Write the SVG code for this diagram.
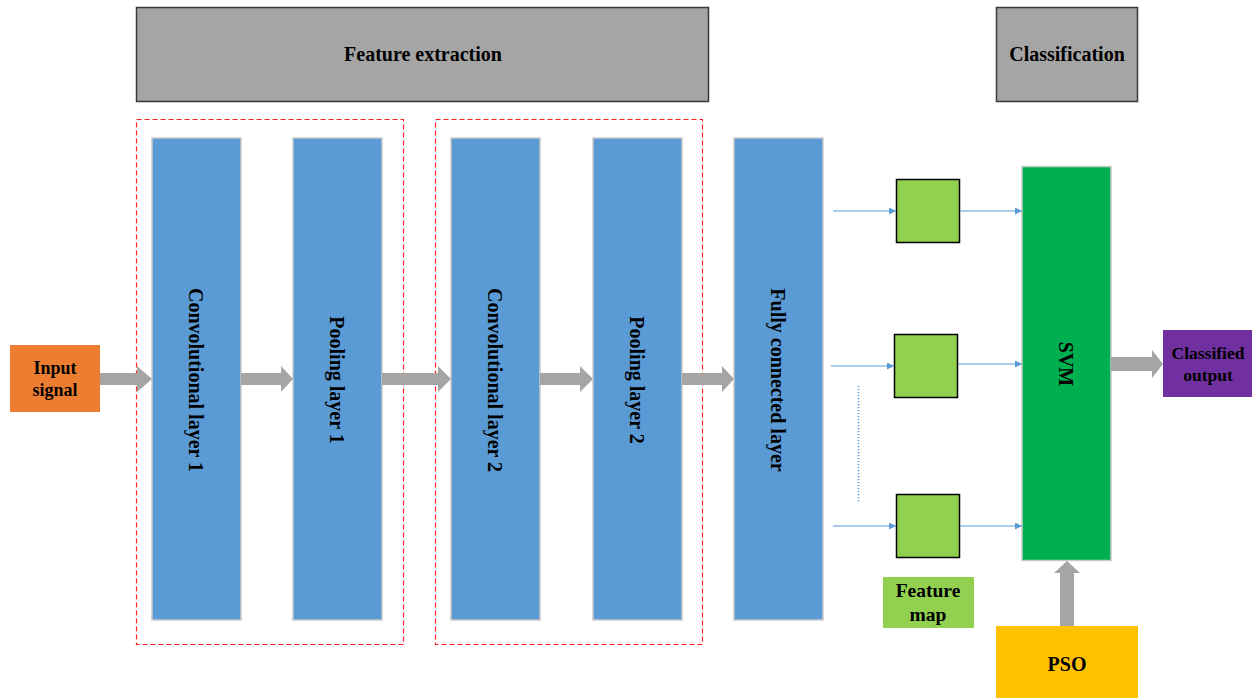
<svg xmlns="http://www.w3.org/2000/svg" width="1252" height="698" viewBox="0 0 1252 698">
  <style>
    .lbl { font-family: "Liberation Serif", "Times New Roman", serif; font-weight: bold; fill: #000; text-anchor: middle; dominant-baseline: central; }
    .hdr { fill: #A5A5A5; stroke: #3A3A3A; stroke-width: 1.5; }
    .layer { fill: #5B9BD5; stroke: #C9C9C9; stroke-width: 1.5; }
    .group { fill: none; stroke: #FF2020; stroke-width: 1.2; stroke-dasharray: 5 3; }
    .fmap { fill: #92D050; stroke: #000; stroke-width: 1.5; }
    .big { fill: #A5A5A5; }
    .thin { stroke: #5B9BD5; stroke-width: 1.2; fill: none; marker-end: url(#tip); }
  </style>
  <defs>
    <marker id="tip" viewBox="0 0 10 10" refX="10" refY="5" markerWidth="7" markerHeight="7" markerUnits="userSpaceOnUse" orient="auto">
      <path d="M0,0 L10,5 L0,10 z" fill="#5B9BD5"/>
    </marker>
  </defs>

  <rect width="1252" height="698" fill="#FFFFFF"/>

  <!-- stage headers -->
  <g id="feature-extraction">
    <rect class="hdr" x="136.5" y="7.5" width="572" height="94"/>
    <text class="lbl" x="423" y="54" font-size="20">Feature extraction</text>
  </g>
  <g id="classification">
    <rect class="hdr" x="996.5" y="7.5" width="141" height="94"/>
    <text class="lbl" x="1067" y="54" font-size="20">Classification</text>
  </g>

  <!-- dashed groupings -->
  <g id="block-1"><rect class="group" x="136.5" y="119.5" width="267" height="525"/></g>
  <g id="block-2"><rect class="group" x="435.5" y="119.5" width="267" height="525"/></g>

  <!-- input -->
  <g id="input-signal">
    <rect x="10" y="345" width="90" height="67" fill="#ED7D31"/>
    <text class="lbl" x="55" y="368" font-size="18">Input</text>
    <text class="lbl" x="55" y="390" font-size="18">signal</text>
  </g>

  <!-- CNN layers -->
  <g id="conv-1">
    <rect class="layer" x="152" y="138" width="89" height="482"/>
    <text class="lbl" font-size="20" transform="translate(196,380) rotate(90)">Convolutional layer 1</text>
  </g>
  <g id="pool-1">
    <rect class="layer" x="293" y="138" width="89" height="482"/>
    <text class="lbl" font-size="20" transform="translate(337,380) rotate(90)">Pooling layer 1</text>
  </g>
  <g id="conv-2">
    <rect class="layer" x="451" y="138" width="89" height="482"/>
    <text class="lbl" font-size="20" transform="translate(495,380) rotate(90)">Convolutional layer 2</text>
  </g>
  <g id="pool-2">
    <rect class="layer" x="593" y="138" width="89" height="482"/>
    <text class="lbl" font-size="20" transform="translate(637,380) rotate(90)">Pooling layer 2</text>
  </g>
  <g id="fully-connected">
    <rect class="layer" x="734" y="138" width="89" height="482"/>
    <text class="lbl" font-size="20" transform="translate(778,380) rotate(90)">Fully connected layer</text>
  </g>

  <!-- feature maps -->
  <g id="fmap-1"><rect class="fmap" x="896.5" y="179.5" width="63" height="63"/></g>
  <g id="fmap-2"><rect class="fmap" x="894.5" y="334.5" width="63" height="63"/></g>
  <g id="fmap-3"><rect class="fmap" x="896.5" y="494.5" width="63" height="63"/></g>
  <g id="fmap-label">
    <rect x="883" y="577" width="91" height="51" fill="#92D050"/>
    <text class="lbl" x="928" y="590" font-size="19.5">Feature</text>
    <text class="lbl" x="928" y="614" font-size="19.5">map</text>
  </g>

  <!-- classifier -->
  <g id="svm">
    <rect x="1022" y="166.5" width="89" height="394" fill="#00B050" stroke="#C9C9C9" stroke-width="1.5"/>
    <text class="lbl" font-size="20" transform="translate(1066,364) rotate(90)">SVM</text>
  </g>
  <g id="classified-output">
    <rect x="1163" y="330" width="89" height="67" fill="#7030A0"/>
    <text class="lbl" x="1208" y="353" font-size="17.5">Classified</text>
    <text class="lbl" x="1208" y="375" font-size="17.5">output</text>
  </g>
  <g id="pso">
    <rect x="996" y="626" width="142" height="72" fill="#FFC000"/>
    <text class="lbl" x="1067" y="664" font-size="20">PSO</text>
  </g>

  <!-- connectors -->
  <g id="connectors">
    <!-- block arrows along the main pipeline -->
    <path class="big" d="M100,373 H137 V366 L152,379 L137,392 V385 H100 z"/>
    <path class="big" d="M241,373 H281 V366 L293,379 L281,392 V385 H241 z"/>
    <path class="big" d="M382,373 H438 V366 L451,379 L438,392 V385 H382 z"/>
    <path class="big" d="M540,373 H580 V366 L593,379 L580,392 V385 H540 z"/>
    <path class="big" d="M682,373 H722 V366 L734,379 L722,392 V385 H682 z"/>
    <path class="big" d="M1111,357 H1152 V350 L1163,364 L1152,378 V371 H1111 z"/>
    <path class="big" d="M1060,626 V573 H1054 L1067,561 L1080,573 H1074 V626 z"/>

    <!-- feature map links -->
    <line class="thin" x1="833" y1="211" x2="896" y2="211"/>
    <line class="thin" x1="960" y1="211" x2="1022" y2="211"/>
    <line class="thin" x1="831" y1="366" x2="894" y2="366"/>
    <line class="thin" x1="958" y1="364" x2="1022" y2="364"/>
    <line class="thin" x1="833" y1="526" x2="896" y2="526"/>
    <line class="thin" x1="960" y1="526" x2="1022" y2="526"/>

    <!-- ellipsis between feature maps -->
    <line x1="858.5" y1="386" x2="858.5" y2="503" stroke="#5B9BD5" stroke-width="1.6" stroke-dasharray="1.3 1.7"/>
  </g>
</svg>
